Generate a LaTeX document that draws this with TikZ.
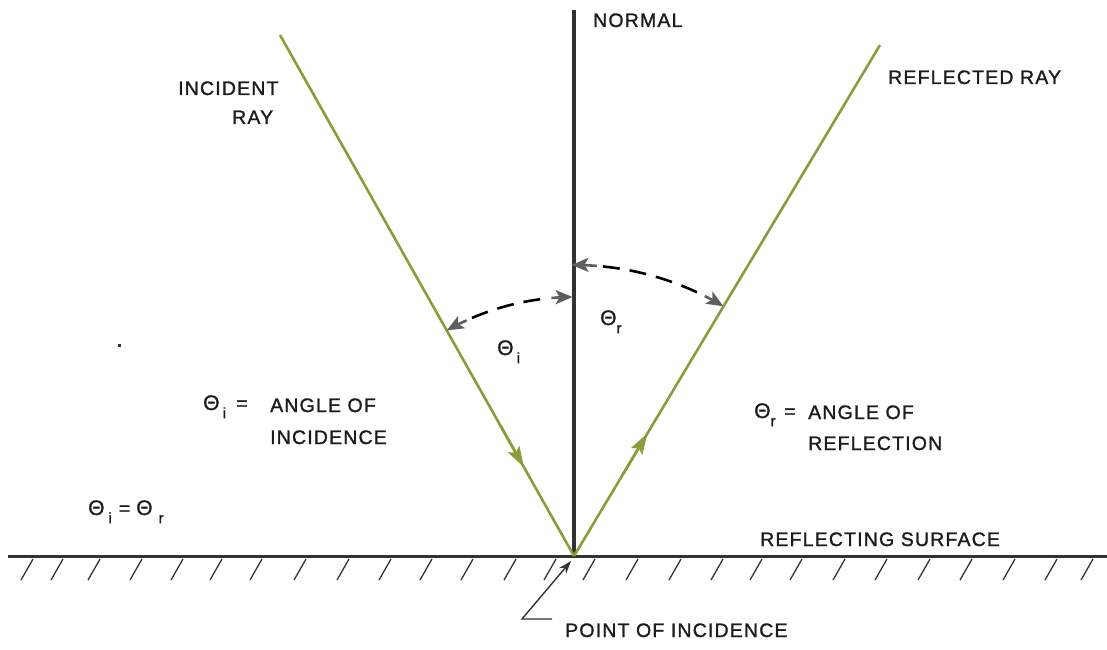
\documentclass[tikz,border=0pt]{standalone}
\usepackage{fontspec}
\setmainfont{Liberation Sans}
\newfontfamily\lbl{Liberation Sans}[LetterSpace=6,FakeBold=1.3]
\usetikzlibrary{arrows.meta,calc}
\definecolor{raycol}{RGB}{142,155,58}
\definecolor{ink}{RGB}{50,50,50}
\definecolor{txt}{RGB}{28,28,28}
\definecolor{tipgray}{RGB}{95,95,95}
\newcommand{\lsub}[1]{\raisebox{-0.42em}{\fontsize{15}{15}\selectfont #1}}
\newcommand{\Th}{{\fontsize{21}{21}\selectfont Θ}}
\begin{document}
\begin{tikzpicture}[x=1pt,y=1pt,
  lab/.style={font={\lbl\fontsize{19.5}{19.5}\selectfont}, text=txt, inner sep=0pt, anchor=base west},
  rayline/.style={draw=raycol, line width=2.6pt},
  rayhead/.style={draw=raycol, line width=2.6pt, -{Stealth[length=21pt,width=13pt,inset=4pt]}},
  normalline/.style={draw=ink, line width=3.4pt},
  surfline/.style={draw=ink, line width=3pt},
  hatchline/.style={draw=ink, line width=1.3pt},
  arcdash/.style={draw=black, line width=2.6pt, dash pattern=on 17pt off 10pt},
  arcend/.style={draw=tipgray, line width=2.6pt, -{Stealth[length=17pt,width=14pt,inset=4pt]}},
  leader/.style={draw=ink, line width=1.4pt, -{Stealth[length=13pt,width=9pt]}}
]
\useasboundingbox (0,0) rectangle (1107,649);
% key points
\coordinate (O) at (574,93);
\coordinate (I) at (280,614);
\coordinate (R) at (880,604);
\coordinate (Ntop) at (574,639);
\coordinate (SL) at (8,93);
\coordinate (SR) at (1107,93);
% surface and hatching
\draw[surfline] (SL) -- (SR);
\foreach \hx in {33,63,100,142,183,222,262,306,349,391,432,473,516,556,595,638,681,723,762,802,845,887,930,972,1015,1057,1093}
  \draw[hatchline] (\hx,90) -- ++(-12,-21);
% normal
\draw[normalline] (Ntop) -- (O);
% rays
\coordinate (Ia) at ($(I)!0.83!(O)$);
\coordinate (Ra) at ($(O)!0.24!(R)$);
\draw[rayline] (I) -- (O);
\draw[rayline] (O) -- (R);
\draw[rayhead] ($(I)!0.75!(O)$) -- (Ia);
\draw[rayhead] ($(O)!0.16!(R)$) -- (Ra);
% angle arcs (incidence)
\coordinate (Ai1) at ([shift={(114.5:259pt)}]O);
\coordinate (Ai2) at ([shift={(95:259pt)}]O);
\draw[arcend] (Ai1) arc[start angle=114.5, end angle=119.43, radius=259pt];
\draw[arcend] (Ai2) arc[start angle=95, end angle=90.3, radius=259pt];
\draw[arcdash] ([shift={(113.2:259pt)}]O) arc[start angle=113.2, end angle=96.2, radius=259pt];
% angle arcs (reflection)
\coordinate (Ar1) at ([shift={(85.5:291pt)}]O);
\coordinate (Ar2) at ([shift={(63.3:291pt)}]O);
\draw[arcend] (Ar1) arc[start angle=85.5, end angle=90.5, radius=291pt];
\draw[arcend] (Ar2) arc[start angle=63.3, end angle=59.09, radius=291pt];
\draw[arcdash] ([shift={(84.3:291pt)}]O) arc[start angle=84.3, end angle=64.5, radius=291pt];
% leader to point of incidence
\coordinate (L1) at (552,30);
\coordinate (L2) at (522,30);
\coordinate (Ltip) at (571,88);
\draw[leader] (L1) -- (L2) -- (Ltip);
% stray dot
\fill[ink] (117.5,302.5) rectangle ++(3,3);
% labels
\node[lab] (tnormal) at (593,622) {NORMAL};
\node[lab] (tinc1) at (178,554) {INCIDENT};
\node[lab] (tinc2) at (232,525) {RAY};
\node[lab] (trefl) at (888,565) {REFLECTED RAY};
\node[lab] (thi) at (497,294) {\Th\,\lsub{i}};
\node[lab] (thr) at (600,324) {\Th\lsub{r}};
\node[lab] (eqi) at (203,239) {\Th\,\lsub{i}};
\node[lab] (eqis) at (236,239) {=};
\node[lab] (angi1) at (270,237) {ANGLE OF};
\node[lab] (angi2) at (270,205) {INCIDENCE};
\node[lab] (eqr) at (754,231) {\Th\lsub{r}};
\node[lab] (eqrs) at (784,231) {=};
\node[lab] (angr1) at (808,230) {ANGLE OF};
\node[lab] (angr2) at (808,199) {REFLECTION};
\node[lab] (equal) at (88,134) {\Th\hspace{4pt}\lsub{i}\hspace{7pt}=\hspace{6pt}\Th\hspace{6pt}\lsub{r}};
\node[lab] (tsurf) at (760,103) {REFLECTING SURFACE};
\node[lab] (tpoint) at (565,12) {POINT OF INCIDENCE};
\end{tikzpicture}
\end{document}
